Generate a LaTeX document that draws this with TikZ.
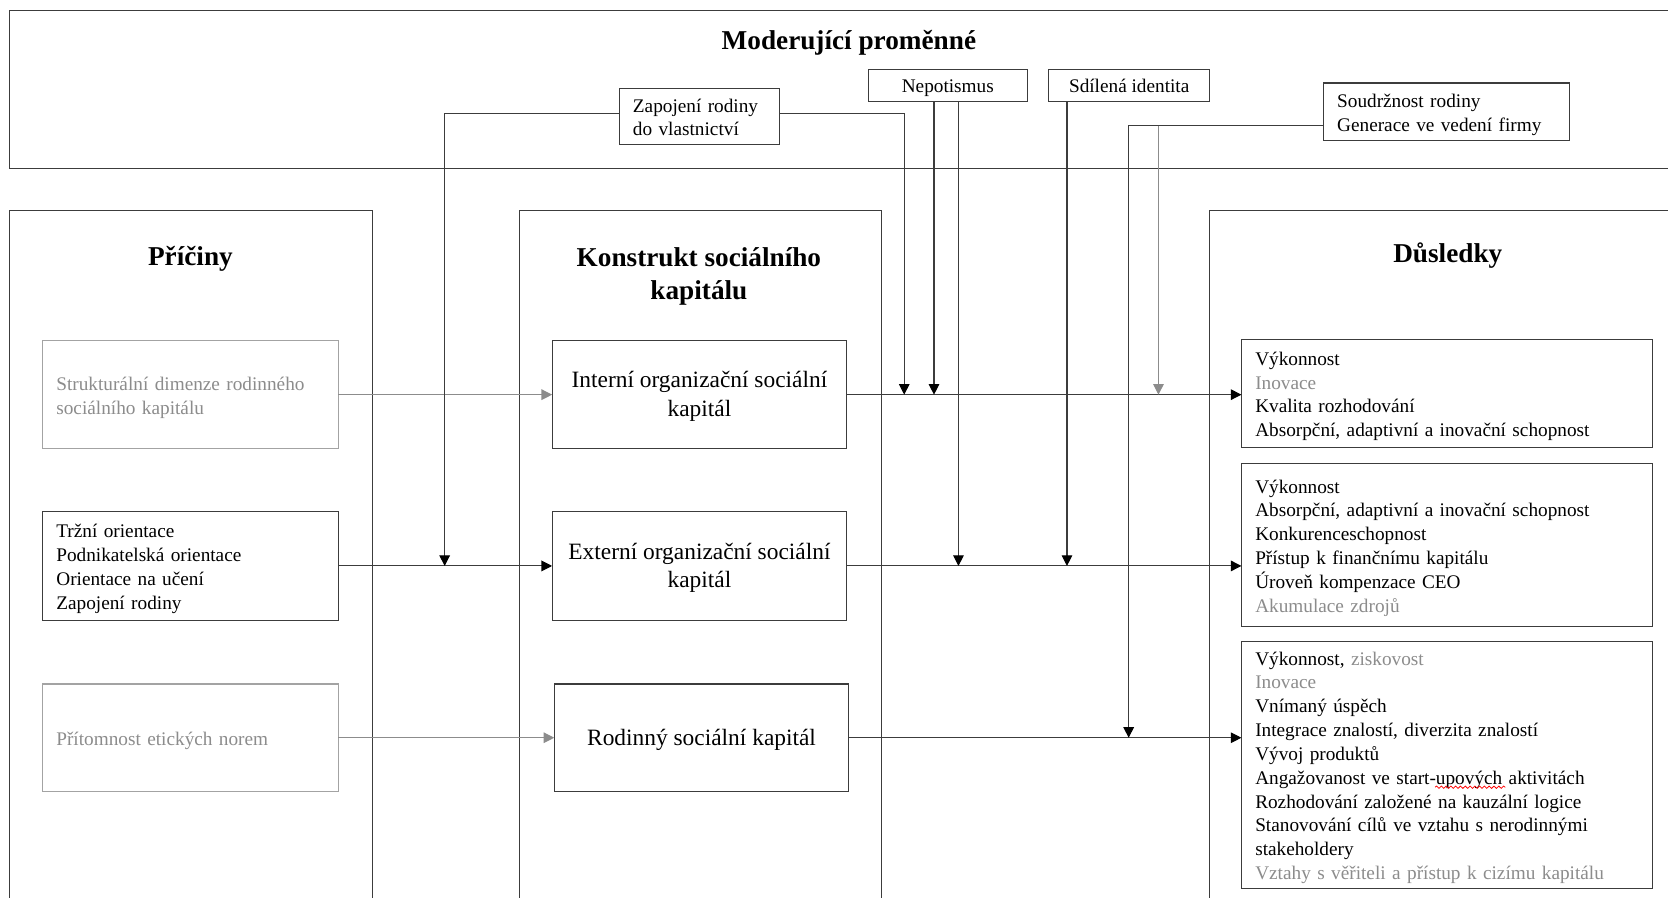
\documentclass[tikz,border=0pt]{standalone}
\usepackage{fontspec}
\setmainfont{Liberation Serif}
\usetikzlibrary{arrows.meta,decorations.pathmorphing}

\definecolor{softgray}{RGB}{140,140,140}
\definecolor{linegray}{RGB}{60,60,60}

% fixed line struts so every framed text sits at the same optical height
\newcommand\topbody{\rule{0pt}{18pt}}
\newcommand\botbody{\rule[-4pt]{0pt}{0pt}}
\newcommand\topbig{\rule{0pt}{19.5pt}}
\newcommand\botbig{\rule[-5.5pt]{0pt}{0pt}}

\begin{document}
\begin{tikzpicture}[x=1pt,y=-1pt,
  every node/.style={inner sep=0pt, outer sep=0pt},
  body/.style={font=\fontsize{18.1}{22.4}\selectfont},
  big/.style={font=\fontsize{22}{27}\selectfont},
  head/.style={font=\fontsize{25.6}{31}\selectfont\bfseries, align=center},
  pane/.style={draw=linegray, line width=1pt},
  box/.style={draw=linegray, line width=1pt, body},
  softbox/.style={draw=softgray!80, line width=1pt, body, text=softgray},
  listbox/.style={box, align=left, inner xsep=13pt},
  arr/.style={draw=linegray, line width=1pt, -{Triangle[length=10pt,width=10pt,fill=black,color=black]}},
  softarr/.style={draw=softgray, line width=1pt, -{Triangle[length=10pt,width=10pt]}}
]
\useasboundingbox (0,0) rectangle (1568,844);
\fill[white] (0,0) rectangle (1568,844);

% moderator band and the three columns (open towards the page edges)
\draw[pane] (1568,10) -- (9,10) -- (9,158) -- (1568,158);
\draw[pane] (9,844) -- (9,198) -- (350,198) -- (350,844);
\draw[pane] (488,844) -- (488,198) -- (829,198) -- (829,844);
\draw[pane] (1137,844) -- (1137,198) -- (1568,198);

% headings
\node[head] (hmod) at (798,40) {Moderující proměnné};
\node[head] (hcause) at (179,243.5) {Příčiny};
\node[head] (hcons) at (657,260) {Konstrukt sociálního\\kapitálu};
\node[head] (hout) at (1361,240) {Důsledky};

% moderators
\node[listbox, minimum width=151pt, minimum height=53pt, text width=125pt] (zap) at (657.5,109.5) {\topbody Zapojení rodiny\\do vlastnictví\botbody};
\node[box, minimum width=150pt, minimum height=30pt, align=center] (nep) at (891,80) {\topbody Nepotismus\botbody};
\node[box, minimum width=151pt, minimum height=30pt, align=center] (sdi) at (1061.5,80) {\topbody Sdílená identita\botbody};
\node[listbox, minimum width=231pt, minimum height=54pt, text width=205pt] (sou) at (1359.5,105) {\topbody Soudržnost rodiny\\Generace ve vedení firmy\botbody};

% causes
\node[softbox, align=left, inner xsep=13pt, minimum width=278pt, minimum height=102pt, text width=252pt] (str) at (179,371) {\topbody Strukturální dimenze rodinného\\sociálního kapitálu\botbody};
\node[listbox, minimum width=278pt, minimum height=102pt, text width=252pt] (trz) at (179,532) {\topbody Tržní orientace\\Podnikatelská orientace\\Orientace na učení\\Zapojení rodiny\botbody};
\node[softbox, align=left, inner xsep=13pt, minimum width=278pt, minimum height=101pt, text width=252pt] (eti) at (179,693.5) {\topbody Přítomnost etických norem\botbody};

% social capital constructs
\node[box, big, align=center, minimum width=277pt, minimum height=102pt] (int) at (657.5,371) {\topbig Interní organizační sociální\\kapitál\botbig};
\node[box, big, align=center, minimum width=277pt, minimum height=102pt] (ext) at (657.5,532) {\topbig Externí organizační sociální\\kapitál\botbig};
\node[box, big, align=center, minimum width=277pt, minimum height=101pt] (rod) at (659.5,693.5) {\topbig Rodinný sociální kapitál\botbig};

% outcomes
\node[listbox, minimum width=386pt, minimum height=102pt, text width=360pt] (out1) at (1360,370) {\topbody Výkonnost\\{\color{softgray}Inovace}\\Kvalita rozhodování\\Absorpční, adaptivní a inovační schopnost\botbody};
\node[listbox, minimum width=386pt, minimum height=153pt, text width=360pt] (out2) at (1360,512.5) {\topbody Výkonnost\\Absorpční, adaptivní a inovační schopnost\\Konkurenceschopnost\\Přístup k finančnímu kapitálu\\Úroveň kompenzace CEO\\{\color{softgray}Akumulace zdrojů}\botbody};
\node[listbox, minimum width=386pt, minimum height=232pt, text width=360pt] (out3) at (1360,719) {\topbody Výkonnost, {\color{softgray}ziskovost}\\{\color{softgray}Inovace}\\Vnímaný úspěch\\Integrace znalostí, diverzita znalostí\\Vývoj produktů\\Angažovanost ve start-upových aktivitách\\Rozhodování založené na kauzální logice\\Stanovování cílů ve vztahu s nerodinnými\\stakeholdery\\{\color{softgray}Vztahy s věřiteli a přístup k cizímu kapitálu}\botbody};

% spell-check squiggle under "upových"
\draw[red, line width=0.7pt, decorate, decoration={snake, amplitude=1.1pt, segment length=4.5pt}] (1349,740) -- (1415,740);

% points where moderators meet the main paths
\coordinate (zapL) at (trz.east -| 418,0);
\coordinate (zapR) at (int.east -| 850,0);
\coordinate (nepA) at (int.east -| 878,0);
\coordinate (nepB) at (ext.east -| 901,0);
\coordinate (sdiA) at (ext.east -| 1003,0);
\coordinate (souA) at (rod.east -| 1061,0);
\coordinate (souB) at (int.east -| 1089,0);
\coordinate (souOut) at ([yshift=-13pt]sou.west);

% main paths
\draw[softarr] (str.east) -- (int.west);
\draw[arr] (trz.east) -- (ext.west);
\draw[softarr] (eti.east) -- (rod.west);
\draw[arr] (int.east) -- (int.east -| out1.west);
\draw[arr] (ext.east) -- (ext.east -| out2.west);
\draw[arr] (rod.east) -- (rod.east -| out3.west);

% moderating connectors
\draw[arr] ([yshift=2.5pt]zap.west) -| (zapL);
\draw[arr] ([yshift=2.5pt]zap.east) -| (zapR);
\draw[arr] (nep.south -| nepA) -- (nepA);
\draw[arr] (nep.south -| nepB) -- (nepB);
\draw[arr] (sdi.south -| sdiA) -- (sdiA);
\draw[arr] (souOut) -| (souA);
\draw[softarr] (souOut -| souB) -- (souB);
\end{tikzpicture}
\end{document}
